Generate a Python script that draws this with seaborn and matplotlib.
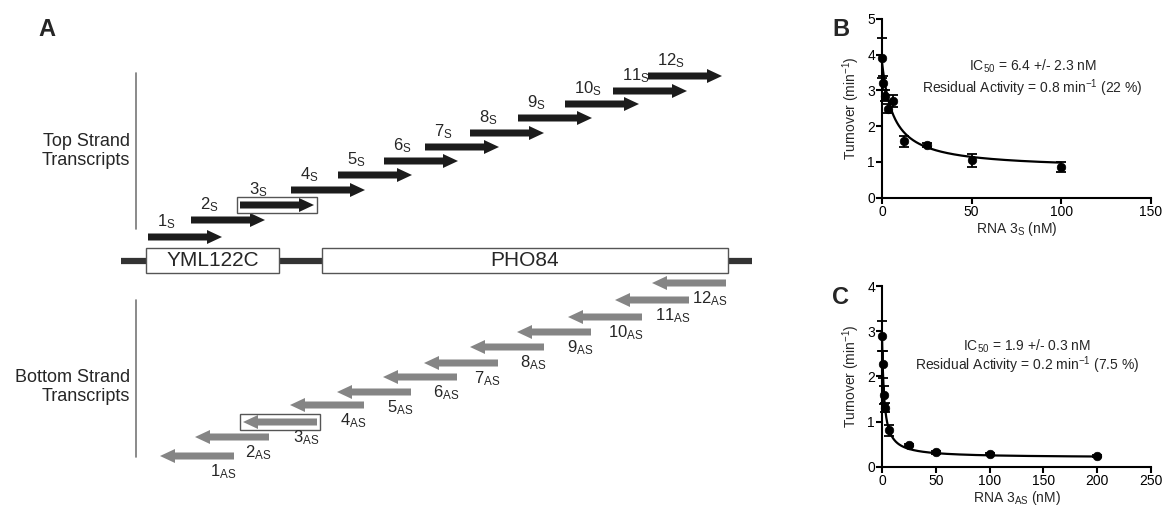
import matplotlib
matplotlib.use("Agg")
import matplotlib.pyplot as plt
from matplotlib.patches import Rectangle
import numpy as np
import seaborn as sns

# Panel A: transcript map, positions in the schematic's own units
top_start = [148, 191, 240, 291, 338, 384, 425, 470, 518, 565, 613, 648]
top_row = [237, 220, 205, 190, 175, 161, 147, 133, 118, 104, 91, 76]
bot_start = [160, 195, 243, 290, 337, 383, 424, 470, 517, 568, 615, 652]
bot_row = [456, 437, 422, 405, 392, 377, 363, 347, 332, 317, 300, 283]
transcript_len = 74
boxed = 3  # transcript tested in B / C
genes = ["YML122C", "PHO84"]
gene_left = [146, 322]
gene_right = [279, 728]
chrom_span = [121, 752]
chrom_row = 261

# Panel B: RNA 3S titration
b_conc = [0, 0.78, 1.56, 3.125, 6.25, 12.5, 25, 50, 100]
b_rate = [3.91, 3.21, 2.85, 2.49, 2.71, 1.58, 1.48, 1.05, 0.86]
b_err = [0.55, 0.2, 0.15, 0.12, 0.17, 0.15, 0.05, 0.18, 0.13]
b_top, b_ic50, b_bottom = 3.8, 6.4, 0.8

# Panel C: RNA 3AS titration
c_conc = [0, 0.78, 1.56, 3.125, 6.25, 25, 50, 100, 200]
c_rate = [2.9, 2.27, 1.59, 1.31, 0.81, 0.48, 0.32, 0.28, 0.24]
c_err = [0.33, 0.3, 0.2, 0.1, 0.12, 0.03, 0.03, 0.02, 0.02]
c_top, c_ic50, c_bottom = 2.95, 1.9, 0.2

sns.set_theme(style="ticks")
plt.rcParams['font.family'] = ['Liberation Sans', 'DejaVu Sans']
plt.rcParams['mathtext.fontset'] = 'custom'
plt.rcParams['mathtext.rm'] = 'Liberation Sans'
plt.rcParams['mathtext.it'] = 'Liberation Sans:italic'
plt.rcParams['mathtext.bf'] = 'Liberation Sans:bold'

fig = plt.figure(figsize=(11.64, 5.12), dpi=100)

# ---- panel A ----
axA = fig.add_axes([0, 0, 1, 1])
axA.set_xlim(0, 1164)
axA.set_ylim(512, 0)
axA.axis('off')

top_col = '#1c1c1c'
bot_col = '#858585'
for i, (x0, y) in enumerate(zip(top_start, top_row)):
    axA.arrow(x0, y, transcript_len, 0, width=7, head_width=14, head_length=15,
              length_includes_head=True, color=top_col, lw=0)
    axA.text(x0 + 9, y - 6, f'{i + 1}$_\\mathrm{{S}}$', ha='left', va='bottom',
             fontsize=12)
for i, (x0, y) in enumerate(zip(bot_start, bot_row)):
    axA.arrow(x0 + transcript_len, y, -transcript_len, 0, width=7, head_width=14,
              head_length=15, length_includes_head=True, color=bot_col, lw=0)
    axA.text(x0 + transcript_len + 2, y + 6, f'{i + 1}$_\\mathrm{{AS}}$',
             ha='right', va='top', fontsize=12)

# boxes around the tested transcripts
k = boxed - 1
axA.add_patch(Rectangle((top_start[k] - 3, top_row[k] - 8), transcript_len + 6, 16,
                        fill=False, ec='#555555', lw=1))
axA.add_patch(Rectangle((bot_start[k] - 3, bot_row[k] - 8), transcript_len + 6, 16,
                        fill=False, ec='#555555', lw=1))

# chromosome and genes
axA.plot(chrom_span, [chrom_row, chrom_row], color='#333333', lw=4.5,
         solid_capstyle='butt', zorder=1)
for name, gl, gr in zip(genes, gene_left, gene_right):
    axA.add_patch(Rectangle((gl, chrom_row - 13), gr - gl, 25, fc='white',
                            ec='#555555', lw=1, zorder=2))
    axA.text((gl + gr) / 2, chrom_row, name, ha='center', va='center',
             fontsize=15, zorder=3)

# strand brackets
axA.plot([136, 136], [73, 229], color='#777777', lw=1.2)
axA.plot([136, 136], [300, 457], color='#777777', lw=1.2)
axA.text(130, 151, 'Top Strand\nTranscripts', ha='right', va='center',
         fontsize=13, linespacing=1.1)
axA.text(130, 387, 'Bottom Strand\nTranscripts', ha='right', va='center',
         fontsize=13, linespacing=1.1)

fig.text(38 / 1164, 1 - 30 / 512, 'A', fontsize=17, fontweight='bold',
         ha='left', va='center')
fig.text(832 / 1164, 1 - 29 / 512, 'B', fontsize=17, fontweight='bold',
         ha='left', va='center')
fig.text(832 / 1164, 1 - 297 / 512, 'C', fontsize=17, fontweight='bold',
         ha='left', va='center')


def titration(ax, conc, rate, err, top, ic50, bottom, xmax, ymax, xstep,
              sub, line1, line2, tx, ty1, ty2):
    xs = np.linspace(0, max(conc), 500)
    fit = bottom + (top - bottom) / (1 + xs / ic50)
    sns.lineplot(x=xs, y=fit, ax=ax, color='black', lw=1.6, zorder=3)
    ax.errorbar(conc, rate, yerr=err, fmt='none', ecolor='black', elinewidth=1.3,
                capsize=3.5, capthick=1.3, zorder=4, clip_on=False)
    sns.scatterplot(x=conc, y=rate, ax=ax, color='black', s=38, zorder=5,
                    clip_on=False, edgecolor='black')
    ax.set_xlim(0, xmax)
    ax.set_ylim(0, ymax)
    ax.set_xticks(np.arange(0, xmax + 1, xstep))
    ax.set_yticks(np.arange(0, ymax + 1, 1))
    sns.despine(ax=ax)
    for s in ['left', 'bottom']:
        ax.spines[s].set_linewidth(1.5)
        ax.spines[s].set_color('black')
    ax.tick_params(direction='out', length=4, width=1.5, labelsize=10,
                   pad=1, colors='black')
    ax.set_ylabel('Turnover (min$^{-1}$)', fontsize=10, labelpad=4)
    ax.set_xlabel(f'RNA 3$_\\mathrm{{{sub}}}$ (nM)', fontsize=10, labelpad=1)
    ax.text(tx, ty1, line1, ha='center', va='center', fontsize=10)
    ax.text(tx, ty2, line2, ha='center', va='center', fontsize=10)
    ax.set_facecolor('none')


axB = fig.add_axes([882 / 1164, 1 - 197.7 / 512, 269 / 1164, 178.7 / 512])
titration(axB, b_conc, b_rate, b_err, b_top, b_ic50, b_bottom, 150, 5, 50, 'S',
          'IC$_{50}$ = 6.4 +/- 2.3 nM',
          'Residual Activity = 0.8 min$^{-1}$ (22 %)', 84, 3.69, 3.05)

axC = fig.add_axes([882 / 1164, 1 - 466.7 / 512, 269 / 1164, 180.7 / 512])
titration(axC, c_conc, c_rate, c_err, c_top, c_ic50, c_bottom, 250, 4, 50, 'AS',
          'IC$_{50}$ = 1.9 +/- 0.3 nM',
          'Residual Activity = 0.2 min$^{-1}$ (7.5 %)', 135, 2.67, 2.25)

fig.savefig('out.png', dpi=100, facecolor='white')
